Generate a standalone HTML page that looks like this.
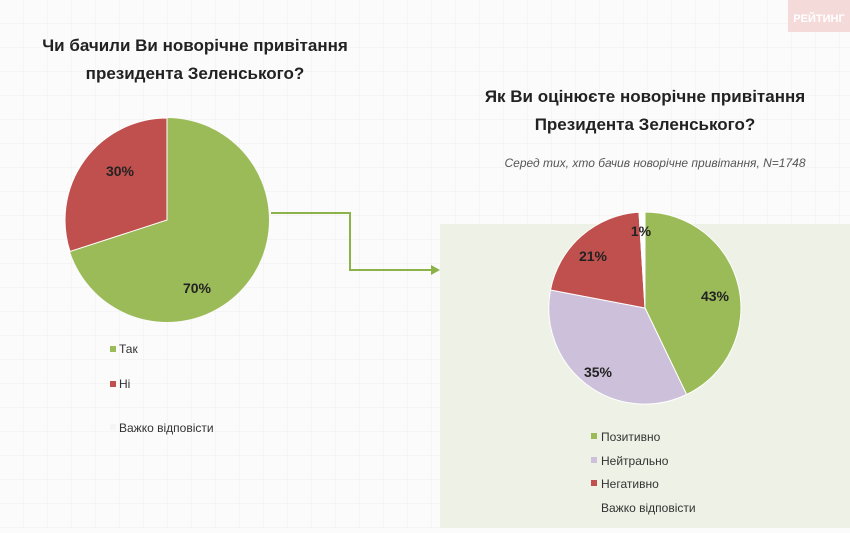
<!DOCTYPE html>
<html><head><meta charset="utf-8"><style>
body{margin:0;width:850px;height:528px;overflow:hidden;background:#fbfbfb;font-family:"Liberation Sans",sans-serif;}
</style></head><body>
<svg width="850" height="528" xmlns="http://www.w3.org/2000/svg" font-family="Liberation Sans, sans-serif">
<defs><pattern id="g" width="24" height="24" patternUnits="userSpaceOnUse"><path d="M24 0V24H0" fill="none" stroke="#efefef" stroke-width="1"/></pattern></defs>
<rect width="850" height="528" fill="#fbfbfb"/>
<rect width="850" height="528" fill="url(#g)"/>
<rect x="440" y="224" width="410" height="304" fill="#eef1e5"/>
<rect x="788" y="0" width="62" height="32" fill="#f5dada"/>
<text x="819" y="22" text-anchor="middle" font-size="11" font-weight="bold" fill="#fff">РЕЙТИНГ</text>
<g font-weight="bold" font-size="17" fill="#222" text-anchor="middle">
<text x="195" y="51">Чи бачили Ви новорічне привітання</text>
<text x="195" y="79">президента Зеленського?</text>
<text x="645" y="102">Як Ви оцінюєте новорічне привітання</text>
<text x="645" y="130">Президента Зеленського?</text>
</g>
<text x="655" y="167" text-anchor="middle" font-size="12" font-style="italic" fill="#555">Серед тих, хто бачив новорічне привітання, N=1748</text>
<!-- left pie -->
<circle cx="167" cy="220" r="102" fill="#9bbb59"/>
<path d="M167 220 L167 118 A102 102 0 0 0 70 251.5 Z" fill="#c0504d" stroke="#fff" stroke-width="1"/>
<g font-weight="bold" font-size="14" fill="#222" text-anchor="middle">
<text x="120" y="176">30%</text><text x="197" y="293">70%</text>
</g>
<polyline points="271,213 350,213 350,270 432,270" fill="none" stroke="#8cb24a" stroke-width="2"/>
<polygon points="440,270 431,265 431,275" fill="#8cb24a"/>
<!-- right pie -->
<g stroke="#fff" stroke-width="1">
<path d="M645 308 L645 212 A96 96 0 0 1 686.6 394.5 Z" fill="#9bbb59"/>
<path d="M686.6 394.5 A96 96 0 0 1 550.5 290 L645 308 Z" fill="#ccc0da"/>
<path d="M645 308 L550.5 290 A96 96 0 0 1 639 212.2 Z" fill="#c0504d"/>
<path d="M645 308 L639 212.2 A96 96 0 0 1 645 212 Z" fill="#fff"/>
</g>
<g font-weight="bold" font-size="14" fill="#222" text-anchor="middle">
<text x="715" y="301">43%</text><text x="598" y="377">35%</text><text x="593" y="261">21%</text><text x="641" y="236">1%</text>
</g>
<g font-size="12" fill="#333">
<rect x="110" y="346" width="6" height="6" fill="#9bbb59"/><text x="119" y="353">Так</text>
<rect x="110" y="381" width="6" height="6" fill="#c0504d"/><text x="119" y="388">Ні</text>
<rect x="110" y="424" width="6" height="6" fill="#f5f5f5"/><text x="119" y="432">Важко відповісти</text>
<rect x="591" y="433" width="6" height="6" fill="#9bbb59"/><text x="601" y="441">Позитивно</text>
<rect x="591" y="457" width="6" height="6" fill="#ccc0da"/><text x="601" y="465">Нейтрально</text>
<rect x="591" y="480" width="6" height="6" fill="#c0504d"/><text x="601" y="488">Негативно</text>
<text x="601" y="512">Важко відповісти</text>
</g>
</svg>
</body></html>
